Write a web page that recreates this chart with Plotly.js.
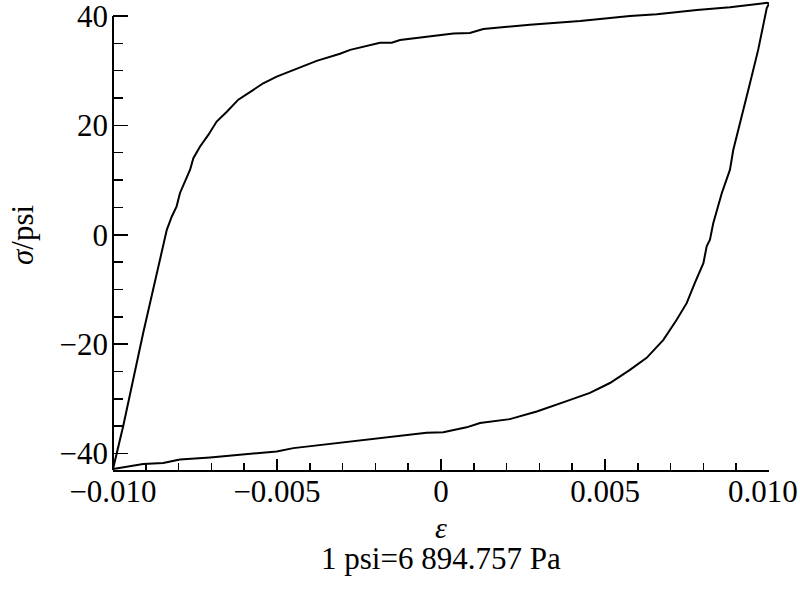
<!DOCTYPE html>
<html>
<head>
<meta charset="utf-8">
<script src="https://cdn.plot.ly/plotly-3.0.1.min.js"></script>
<style>html,body{margin:0;padding:0;background:#fff;}#chart{width:800px;height:594px;}</style>
</head>
<body>
<div id="chart"></div>
<script>
// Loading branch (lower-left to upper-right, via the top)
const strainUp = [-0.0100, -0.00969, -0.00908, -0.00847, -0.00836, -0.00821, -0.00806, -0.00796, -0.00780, -0.00765,
  -0.00755, -0.00735, -0.00709, -0.00684, -0.00653, -0.00618, -0.00572, -0.00542, -0.00501, -0.00440,
  -0.00379, -0.00308, -0.00277, -0.00186, -0.00150, -0.00125, -0.00034, 0.00038, 0.00088, 0.00129,
  0.00271, 0.00424, 0.00576, 0.00658, 0.00780, 0.00881, 0.00993, 0.0100];
const stressUp = [-42.8, -35.0, -17.95, -1.5, 0.9, 3.3, 5.2, 7.6, 10.0, 11.9,
  14.0, 16.1, 18.3, 20.7, 22.5, 24.7, 26.5, 27.7, 28.9, 30.4,
  31.8, 33.1, 33.8, 35.1, 35.1, 35.6, 36.3, 36.8, 36.9, 37.6,
  38.4, 39.1, 40.0, 40.3, 41.1, 41.6, 42.4, 42.3];
// Unloading branch (upper-right back to lower-left, via the bottom)
const strainDown = [0.0100, 0.00993, 0.00967, 0.00942, 0.00917, 0.00891, 0.00881, 0.00856, 0.00830, 0.00820,
  0.00810, 0.00800, 0.00774, 0.00749, 0.00719, 0.00678, 0.00627, 0.00576, 0.00515, 0.00454,
  0.00383, 0.00292, 0.00210, 0.00119, 0.00078, 0.00007, -0.00044, -0.00145, -0.00298, -0.00399,
  -0.00450, -0.00501, -0.00603, -0.00704, -0.00796, -0.00847, -0.00908, -0.00969, -0.0100];
const stressDown = [42.3, 41.4, 33.8, 27.7, 21.6, 15.5, 11.9, 7.6, 2.1, -0.9,
  -2.1, -5.2, -8.8, -12.5, -15.5, -19.2, -22.5, -24.7, -27.1, -28.9,
  -30.4, -32.3, -33.7, -34.4, -35.2, -36.1, -36.2, -36.9, -38.0, -38.7,
  -39.0, -39.6, -40.2, -40.7, -41.1, -41.7, -41.9, -42.5, -42.8];

const xTickVals = [-0.010, -0.005, 0, 0.005, 0.010];
// last label is drawn as an annotation nudged left so it fits inside the page
const xTickText = ['\u22120.010', '\u22120.005', '0', '0.005', ''];
const xLastTickText = '0.010';
const yTickVals = [-40, -20, 0, 20, 40];
const yTickText = ['\u221240', '\u221220', '0', '20', '40'];

const serif = '"Liberation Serif", "Times New Roman", Times, serif';

const traces = [{
  x: strainUp.concat(strainDown),
  y: stressUp.concat(stressDown),
  type: 'scatter', mode: 'lines',
  line: {color: '#000', width: 2},
  hoverinfo: 'x+y', showlegend: false
}];

const layout = {
  width: 800, height: 594,
  margin: {l: 113, r: 31, t: 0, b: 124},
  paper_bgcolor: '#fff', plot_bgcolor: '#fff',
  font: {family: serif, size: 31, color: '#000'},
  showlegend: false,
  xaxis: {
    range: [-0.0100001, 0.0100001],
    tickmode: 'array', tickvals: xTickVals, ticktext: xTickText,
    ticks: 'inside', ticklen: 11, tickwidth: 1.5, tickcolor: '#000',
    minor: {dtick: 0.001, tick0: 0, ticks: 'inside', ticklen: 7, tickwidth: 1.5, tickcolor: '#000'},
    showline: true, linecolor: '#000', linewidth: 2,
    showgrid: false, zeroline: false,
    tickfont: {family: serif, size: 31, color: '#000'},
    ticklabelstandoff: -7,
    ticklabeloverflow: 'allow'
  },
  yaxis: {
    range: [-43, 42.92],
    tickmode: 'array', tickvals: yTickVals, ticktext: yTickText,
    ticks: 'inside', ticklen: 15, tickwidth: 1.5, tickcolor: '#000',
    minor: {dtick: 5, tick0: 0, ticks: 'inside', ticklen: 10, tickwidth: 1.5, tickcolor: '#000'},
    showline: false,
    showgrid: false, zeroline: false,
    tickfont: {family: serif, size: 31, color: '#000'},
    ticklabelstandoff: 4,
    ticklabeloverflow: 'allow'
  },
  shapes: [{
    type: 'line', xref: 'paper', yref: 'y',
    x0: 0, x1: 0, y0: -43, y1: 40,
    line: {color: '#000', width: 2}, layer: 'above'
  }],
  annotations: [
    {text: xLastTickText, xref: 'x', yref: 'paper', x: xTickVals[4], y: -0.0447,
     xanchor: 'center', yanchor: 'middle', xshift: -6, showarrow: false,
     font: {family: serif, size: 31, color: '#000'}},
    {text: '<i>ε</i>', xref: 'paper', yref: 'paper', x: 0.5, y: -0.1213,
     xanchor: 'center', yanchor: 'middle', showarrow: false,
     font: {family: serif, size: 30, color: '#000'}},
    {text: '1 psi=6 894.757 Pa', xref: 'paper', yref: 'paper', x: 0.5, y: -0.1893,
     xanchor: 'center', yanchor: 'middle', showarrow: false,
     font: {family: serif, size: 31, color: '#000'}},
    {text: '<i>σ</i>/psi', xref: 'paper', yref: 'paper', x: -0.1387, y: 0.5,
     xanchor: 'center', yanchor: 'middle', textangle: -90, showarrow: false,
     font: {family: serif, size: 31, color: '#000'}}
  ]
};

Plotly.newPlot('chart', traces, layout, {displayModeBar: false, staticPlot: true});
</script>
</body>
</html>
